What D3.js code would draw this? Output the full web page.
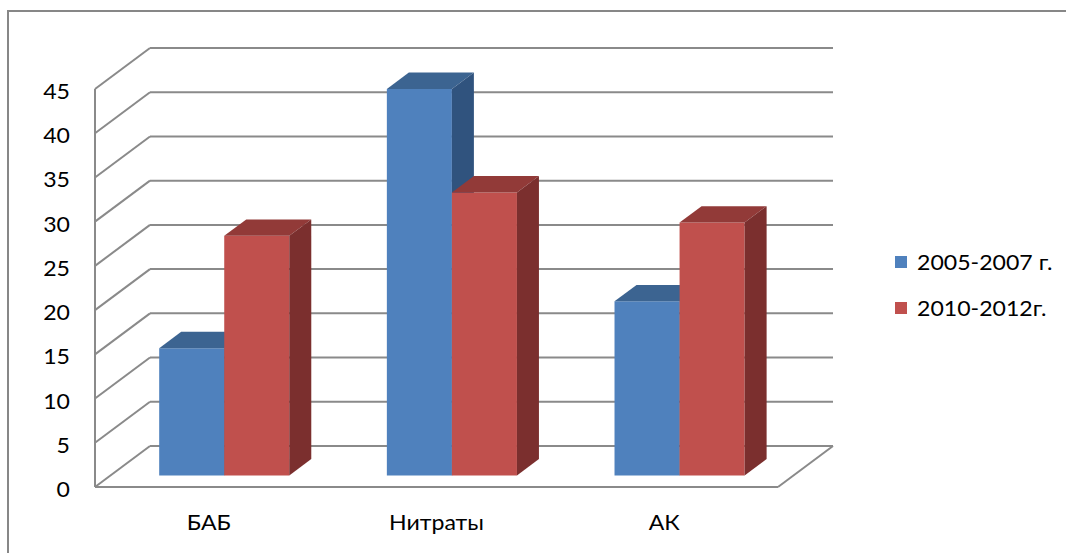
<!DOCTYPE html>
<html>
<head>
<meta charset="utf-8">
<script src="https://cdn.jsdelivr.net/npm/d3@7/dist/d3.min.js"></script>
<style>
  html, body { margin: 0; padding: 0; background: #fff; }
  svg { display: block; }
  text { font-family: Lato, "Noto Sans", sans-serif; fill: #000; }
</style>
</head>
<body>
<svg id="chart" width="1066" height="553"></svg>
<script>
// ---- data ----
const categories = ["БАБ", "Нитраты", "АК"];
const seriesNames = ["2005-2007 г.", "2010-2012г."];
const series2005 = [14.4, 43.7, 19.7];
const series2010 = [27.1, 32.0, 28.6];
const tickValues = [0, 5, 10, 15, 20, 25, 30, 35, 40, 45];

// ---- layout ----
const W = 1066, H = 553;
const X0 = 95;            // front-left corner x
const frontW = 683;       // width of front plane
const DX = 55, DY = 41;   // depth offset of back wall
const Z0 = 0.28, Z1 = 0.68; // bar front/back depth fractions
const gridColor = "#8a8a8a";
const fills = [
  { front: "#4F81BD", top: "#3C6491", side: "#30537E" },
  { front: "#C0504D", top: "#923A38", side: "#7B2F2E" }
];
const values = [series2005, series2010];
const TXS = 1.05; // horizontal text stretch

const svg = d3.select("#chart");

const y = d3.scaleLinear().domain([0, 45]).range([487, 89]);
const x = d3.scaleBand().domain(categories).range([0, frontW]).paddingInner(0).paddingOuter(0);
const x1 = d3.scaleBand().domain(d3.range(seriesNames.length)).range([0, x.bandwidth()]).paddingInner(0).paddingOuter(0.75);

function P(xf, v, z) { return [X0 + xf + z * DX, y(v) - z * DY]; }
function poly(pts) { return "M" + pts.map(p => p.join(",")).join("L") + "Z"; }

// outer border
svg.append("path")
  .attr("d", "M8,560V11H1070")
  .attr("fill", "none").attr("stroke", "#878787").attr("stroke-width", 2);

// walls / gridlines
const g = svg.append("g");
tickValues.forEach(t => {
  const a = P(0, t, 0), b = P(0, t, 1), c = P(frontW, t, 1);
  g.append("line").attr("x1", a[0]).attr("y1", a[1]).attr("x2", b[0]).attr("y2", b[1])
    .attr("stroke", gridColor).attr("stroke-width", 2);
  g.append("line").attr("x1", b[0]).attr("y1", b[1]).attr("x2", c[0]).attr("y2", c[1])
    .attr("stroke", gridColor).attr("stroke-width", 2);
});
// front vertical axis
{
  const a = P(0, 0, 0), b = P(0, 45, 0);
  g.append("line").attr("x1", a[0]).attr("y1", a[1]).attr("x2", b[0]).attr("y2", b[1])
    .attr("stroke", gridColor).attr("stroke-width", 2);
  // floor front edge and right edge
  const c = P(frontW, 0, 0), d = P(frontW, 0, 1);
  g.append("line").attr("x1", a[0]).attr("y1", a[1]).attr("x2", c[0]).attr("y2", c[1])
    .attr("stroke", gridColor).attr("stroke-width", 2);
  g.append("line").attr("x1", c[0]).attr("y1", c[1]).attr("x2", d[0]).attr("y2", d[1])
    .attr("stroke", gridColor).attr("stroke-width", 2);
}

// bars
const bars = svg.append("g");
categories.forEach((cat, ci) => {
  values.forEach((vals, si) => {
    const v = vals[ci];
    const xl = x(cat) + x1(si), xr = xl + x1.bandwidth();
    const f = fills[si];
    // front
    bars.append("path").attr("d", poly([P(xl, 0, Z0), P(xr, 0, Z0), P(xr, v, Z0), P(xl, v, Z0)]))
      .attr("fill", f.front);
    // top
    bars.append("path").attr("d", poly([P(xl, v, Z0), P(xr, v, Z0), P(xr, v, Z1), P(xl, v, Z1)]))
      .attr("fill", f.top);
    // side
    bars.append("path").attr("d", poly([P(xr, 0, Z0), P(xr, 0, Z1), P(xr, v, Z1), P(xr, v, Z0)]))
      .attr("fill", f.side);
  });
});

function stretchedText(parent, tx, ty, str, anchor, size) {
  return parent.append("text")
    .attr("transform", `translate(${tx},${ty}) scale(${TXS},1)`)
    .attr("text-anchor", anchor)
    .style("font-size", size + "px")
    .text(str);
}

// y tick labels
tickValues.forEach(t => {
  stretchedText(svg, 70, y(t) + 10, String(t), "end", 22);
});

// category labels
categories.forEach(cat => {
  stretchedText(svg, X0 + x(cat) + x.bandwidth() / 2, 530, cat, "middle", 22);
});

// legend
const legendY = [262, 308];
seriesNames.forEach((name, i) => {
  svg.append("rect").attr("x", 895).attr("y", legendY[i] - 6).attr("width", 12).attr("height", 12)
    .attr("fill", fills[i].front);
  stretchedText(svg, 917, legendY[i] + 8, name, "start", 22);
});
</script>
</body>
</html>
